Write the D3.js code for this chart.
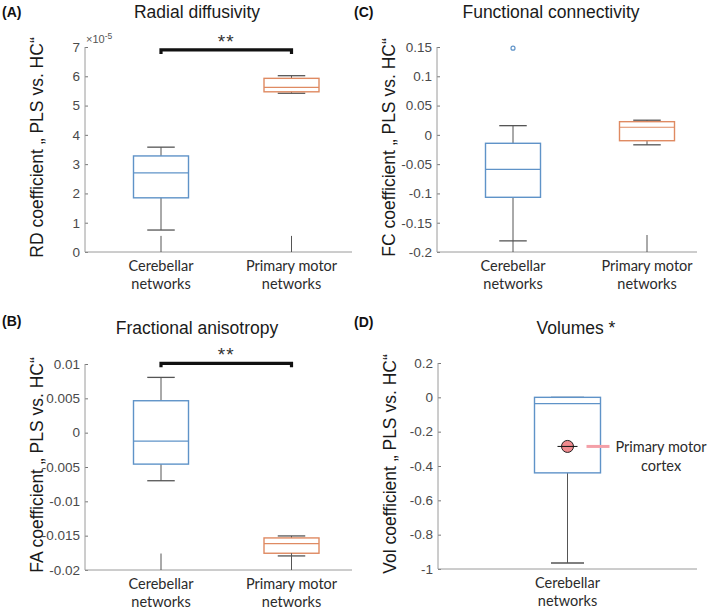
<!DOCTYPE html>
<html>
  <head>
    <meta charset="utf-8">
    <script src="https://d3js.org/d3.v7.min.js"></script>
    <style>
      body { margin: 0; background: #fff; }
      svg { display: block; }
      .tick line { stroke: #777; }
      .tick text { fill: #4a4a4a; font-size: 13.5px; font-family: "Liberation Sans", Arial, sans-serif; }
      .title, .ylab { fill: #1a1a1a; font-family: "Liberation Sans", Arial, sans-serif; }
      .title { font-size: 17.5px; }
      .ylab { font-size: 17.5px; }
      .letter { font: bold 14px "Liberation Sans", Arial, sans-serif; fill: #111; }
      .cat { fill: #2b2b2b; font-size: 14.5px; font-family: Lato, "Open Sans", sans-serif; }
    </style>
  </head>
  <body>
    <svg width="708" height="612"></svg>
    <script>
      // box rows: [lower whisker, q1, median, q3, upper whisker]
      const categories = ['Cerebellar networks', 'Primary motor networks'];

      // (A) radial diffusivity, in units of 1e-5
      const rdBoxes = [[0.75, 1.85, 2.70, 3.28, 3.58], [5.42, 5.47, 5.62, 5.93, 6.02]];
      const rdStubs = [[0, 0.55], [0, 0.55]];
      const rdTicks = [0, 1, 2, 3, 4, 5, 6, 7];

      // (B) fractional anisotropy
      const faBoxes = [[-0.0070, -0.00458, -0.00123, 0.00465, 0.00805], [-0.01795, -0.01756, -0.01615, -0.01533, -0.01504]];
      const faStubs = [[-0.02, -0.0176], [-0.02, -0.01756]];
      const faTicks = [-0.02, -0.015, -0.01, -0.005, 0, 0.005, 0.01];

      // (C) functional connectivity
      const fcBoxes = [[-0.181, -0.1066, -0.0588, -0.0144, 0.0157], [-0.017, -0.010, 0.013, 0.0225, 0.025]];
      const fcStubs = [[-0.2, -0.181], [-0.2, -0.171]];
      const fcOutliers = [[0, 0.148]];
      const fcTicks = [-0.2, -0.15, -0.1, -0.05, 0, 0.05, 0.1, 0.15];

      // (D) volumes
      const volCategories = ['Cerebellar networks'];
      const volBoxes = [[-0.965, -0.44, -0.037, 0, 0]];
      const volMarker = [-0.286];
      const volTicks = [-1, -0.8, -0.6, -0.4, -0.2, 0, 0.2];

      const boxColors = ['#5f93c8', '#df8a62'];
      const svg = d3.select('svg');

      function panel(o) {
        const g = svg.append('g');
        const y = d3.scaleLinear().domain(o.domain).range([o.bottom, o.top]);
        const x = d3.scalePoint().domain(o.cats).range(o.xpos);
        if (o.cats.length === 1) x.range([o.xpos[0], o.xpos[0]]);

        // axes
        g.append('g')
          .attr('transform', `translate(${o.left},0)`)
          .call(d3.axisLeft(y).tickValues(o.ticks).tickSize(-3).tickSizeOuter(0).tickPadding(5)
            .tickFormat(d => String(+d.toFixed(4))))
          .call(a => a.select('.domain').remove());
        g.append('line')
          .attr('x1', o.left).attr('x2', o.left).attr('y1', o.top).attr('y2', o.bottom)
          .attr('stroke', '#9a9a9a');
        g.append('line')
          .attr('x1', o.left).attr('x2', o.right).attr('y1', o.bottom).attr('y2', o.bottom)
          .attr('stroke', '#9a9a9a');

        // boxes
        const bw = o.boxWidth;
        o.boxes.forEach((b, i) => {
          const cx = x(o.cats[i]);
          const col = boxColors[i];
          g.append('line').attr('x1', cx).attr('x2', cx).attr('y1', y(b[3])).attr('y2', y(b[4]))
            .attr('stroke', '#555');
          g.append('line').attr('x1', cx).attr('x2', cx).attr('y1', y(b[1])).attr('y2', y(b[0]))
            .attr('stroke', '#555');
          g.append('line').attr('x1', cx - bw / 4).attr('x2', cx + bw / 4).attr('y1', y(b[4])).attr('y2', y(b[4]))
            .attr('stroke', o.capTop || '#555').attr('stroke-width', 1.3);
          g.append('line').attr('x1', cx - bw / 4).attr('x2', cx + bw / 4).attr('y1', y(b[0])).attr('y2', y(b[0]))
            .attr('stroke', '#555').attr('stroke-width', 1.3);
          g.append('rect')
            .attr('x', cx - bw / 2).attr('width', bw)
            .attr('y', y(b[3])).attr('height', y(b[1]) - y(b[3]))
            .attr('fill', 'none').attr('stroke', col).attr('stroke-width', 1.4);
          g.append('line').attr('x1', cx - bw / 2).attr('x2', cx + bw / 2).attr('y1', y(b[2])).attr('y2', y(b[2]))
            .attr('stroke', col).attr('stroke-width', 1.2);
        });
        (o.stubs || []).forEach((s, i) => {
          const cx = x(o.cats[i]);
          g.append('line').attr('x1', cx).attr('x2', cx).attr('y1', y(s[0])).attr('y2', y(s[1]))
            .attr('stroke', '#555');
        });
        (o.outliers || []).forEach(p => {
          g.append('circle').attr('cx', x(o.cats[p[0]])).attr('cy', y(p[1])).attr('r', 2)
            .attr('fill', 'none').attr('stroke', boxColors[0]).attr('stroke-width', 1.2);
        });

        // category labels
        o.cats.forEach(c => {
          const words = c.split(' ');
          const lines = [words.slice(0, -1).join(' '), words[words.length - 1]];
          const t = g.append('text').attr('class', 'cat').attr('text-anchor', 'middle');
          lines.forEach((l, k) => t.append('tspan').attr('x', x(c)).attr('y', o.bottom + 19 + k * 18).text(l));
        });

        // titles and labels
        g.append('text').attr('class', 'letter').attr('x', o.letterX).attr('y', o.letterY).text(o.letter);
        g.append('text').attr('class', 'title').attr('text-anchor', 'middle')
          .attr('x', o.titleX).attr('y', o.titleY).text(o.title);
        g.append('text').attr('class', 'ylab').attr('text-anchor', 'middle')
          .attr('transform', `translate(${o.left - 42},${(o.top + o.bottom) / 2 - 2}) rotate(-90)`)
          .text(o.ylabel);
        return { g, x, y };
      }

      const a = panel({
        letter: '(A)', letterX: 2, letterY: 17, title: 'Radial diffusivity', titleX: 197, titleY: 18,
        ylabel: 'RD coefficient „ PLS vs. HC“',
        left: 85, right: 352, top: 47, bottom: 252, xpos: [161, 291.5], boxWidth: 55,
        cats: categories, domain: [0, 7], ticks: rdTicks, boxes: rdBoxes, stubs: rdStubs
      });
      const b = panel({
        letter: '(B)', letterX: 2, letterY: 326, title: 'Fractional anisotropy', titleX: 197, titleY: 334,
        ylabel: 'FA coefficient „ PLS vs. HC“',
        left: 85, right: 352, top: 364, bottom: 570, xpos: [161, 291.5], boxWidth: 55,
        cats: categories, domain: [-0.02, 0.01], ticks: faTicks, boxes: faBoxes, stubs: faStubs
      });
      const c = panel({
        letter: '(C)', letterX: 354, letterY: 17, title: 'Functional connectivity', titleX: 551, titleY: 18,
        ylabel: 'FC coefficient „ PLS vs. HC“',
        left: 437, right: 697, top: 47, bottom: 252, xpos: [513, 647], boxWidth: 55,
        cats: categories, domain: [-0.2, 0.15], ticks: fcTicks, boxes: fcBoxes, stubs: fcStubs, outliers: fcOutliers
      });
      const d = panel({
        letter: '(D)', letterX: 354, letterY: 327, title: 'Volumes *', titleX: 576, titleY: 334,
        ylabel: 'Vol coefficient „ PLS vs. HC“',
        left: 438, right: 697, top: 363, bottom: 569, xpos: [567.5], boxWidth: 66, capTop: '#2f4f75',
        cats: volCategories, domain: [-1, 0.2], ticks: volTicks, boxes: volBoxes
      });

      // exponent label for (A)
      const ex = a.g.append('text').attr('x', 86).attr('y', 43)
        .style('font', '11px "Liberation Sans", Arial, sans-serif').style('fill', '#555');
      ex.append('tspan').text('×10');
      ex.append('tspan').attr('dy', -4).style('font-size', '8.5px').text('-5');

      // significance brackets
      function bracket(p, val, drop) {
        const x1 = p.x(categories[0]), x2 = p.x(categories[1]), yy = p.y(val);
        p.g.append('path')
          .attr('d', `M${x1},${yy + drop}V${yy}H${x2}V${yy + drop}`)
          .attr('fill', 'none').attr('stroke', '#111').attr('stroke-width', 3.2);
        p.g.append('text').attr('x', (x1 + x2) / 2).attr('y', yy - 2).attr('text-anchor', 'middle')
          .style('font', '19px "Liberation Sans", Arial, sans-serif').style('fill', '#333')
          .style('letter-spacing', '1px').text('**');
      }
      bracket(a, 6.9, 4);
      bracket(b, 0.0101, 4);

      // primary motor cortex marker in (D)
      const mx = d.x(volCategories[0]), my = d.y(volMarker[0]);
      d.g.append('circle').attr('cx', mx).attr('cy', my).attr('r', 6)
        .attr('fill', '#f08a8e').attr('stroke', '#222').attr('stroke-width', 1);
      d.g.append('line').attr('x1', mx - 10).attr('x2', mx + 10).attr('y1', my).attr('y2', my)
        .attr('stroke', '#111').attr('stroke-width', 1);
      d.g.append('line').attr('x1', mx + 19).attr('x2', mx + 42).attr('y1', my).attr('y2', my)
        .attr('stroke', '#f4a0a8').attr('stroke-width', 3);
      const lt = d.g.append('text').attr('class', 'cat').attr('text-anchor', 'middle');
      lt.append('tspan').attr('x', 661).attr('y', my + 6).text('Primary motor');
      lt.append('tspan').attr('x', 661).attr('y', my + 25).text('cortex');
    </script>
  </body>
</html>
